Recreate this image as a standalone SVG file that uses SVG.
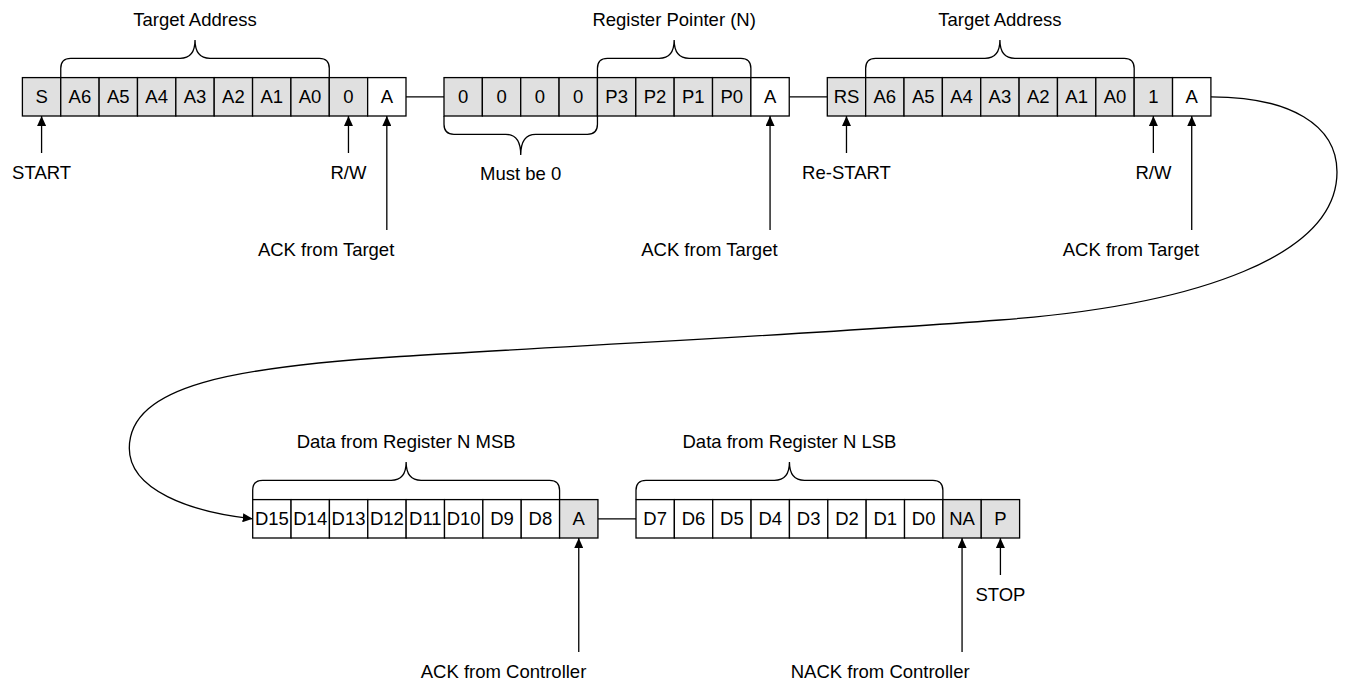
<svg xmlns="http://www.w3.org/2000/svg" width="1350" height="681" viewBox="0 0 1350 681">
<style>
.c{stroke:#000;stroke-width:1.3}
.g{fill:#e0e0e0}
.w{fill:#fff}
text{font-family:"Liberation Sans",Arial,sans-serif;font-size:18.5px;fill:#000}
.t{text-anchor:middle}
.e{text-anchor:end}
.br{fill:none;stroke:#000;stroke-width:1.3}
.ln{fill:none;stroke:#000;stroke-width:1.3}
.ar{fill:none;stroke:#000;stroke-width:1.3;marker-end:url(#ah)}
</style>
<defs>
<marker id="ah" markerUnits="userSpaceOnUse" markerWidth="10" markerHeight="9" refX="10" refY="4.5" orient="auto" viewBox="0 0 10 9">
<path d="M0,0 L10,4.5 L0,9 z" fill="#000"/>
</marker>
</defs>
<rect width="1350" height="681" fill="#fff"/>

<g id="connectors">
<path class="ln" d="M406,96.8 H444"/>
<path class="ln" d="M789.24,96.8 H827.3"/>
<path class="ln" d="M597.94,518.8 H636"/>
<path class="ar" d="M1210.9,96.8 C1290,96.8 1337,125 1337,172 C1337,255 1200,305 1000,320 C800,335 550,347 400,356.5 C235,367 129.3,385 129.3,448.3 C129.3,490 190,512 252.7,518.8"/>
<path class="ar" d="M41.58,153 V116"/>
<path class="ar" d="M348.46,153 V116"/>
<path class="ar" d="M386.82,230 V116"/>
<path class="ar" d="M770.06,230 V116"/>
<path class="ar" d="M846.48,153 V116"/>
<path class="ar" d="M1153.36,153 V116"/>
<path class="ar" d="M1191.72,230 V116"/>
<path class="ar" d="M578.76,652 V538"/>
<path class="ar" d="M962.06,652 V538"/>
<path class="ar" d="M1000.42,575 V538"/>
</g>

<g id="frame1">
<g id="f1-S"><rect class="c g" x="22.4" y="77.6" width="38.36" height="38.4"/><text class="t" x="41.58" y="103.4">S</text></g>
<g id="f1-A6"><rect class="c g" x="60.76" y="77.6" width="38.36" height="38.4"/><text class="t" x="79.94" y="103.4">A6</text></g>
<g id="f1-A5"><rect class="c g" x="99.12" y="77.6" width="38.36" height="38.4"/><text class="t" x="118.3" y="103.4">A5</text></g>
<g id="f1-A4"><rect class="c g" x="137.48" y="77.6" width="38.36" height="38.4"/><text class="t" x="156.66" y="103.4">A4</text></g>
<g id="f1-A3"><rect class="c g" x="175.84" y="77.6" width="38.36" height="38.4"/><text class="t" x="195.02" y="103.4">A3</text></g>
<g id="f1-A2"><rect class="c g" x="214.2" y="77.6" width="38.36" height="38.4"/><text class="t" x="233.38" y="103.4">A2</text></g>
<g id="f1-A1"><rect class="c g" x="252.56" y="77.6" width="38.36" height="38.4"/><text class="t" x="271.74" y="103.4">A1</text></g>
<g id="f1-A0"><rect class="c g" x="290.92" y="77.6" width="38.36" height="38.4"/><text class="t" x="310.1" y="103.4">A0</text></g>
<g id="f1-RW"><rect class="c g" x="329.28" y="77.6" width="38.36" height="38.4"/><text class="t" x="348.46" y="103.4">0</text></g>
<g id="f1-ACK"><rect class="c w" x="367.64" y="77.6" width="38.36" height="38.4"/><text class="t" x="386.82" y="103.4">A</text></g>
</g>

<g id="frame2">
<g id="f2-Z3"><rect class="c g" x="444" y="77.6" width="38.36" height="38.4"/><text class="t" x="463.18" y="103.4">0</text></g>
<g id="f2-Z2"><rect class="c g" x="482.36" y="77.6" width="38.36" height="38.4"/><text class="t" x="501.54" y="103.4">0</text></g>
<g id="f2-Z1"><rect class="c g" x="520.72" y="77.6" width="38.36" height="38.4"/><text class="t" x="539.9" y="103.4">0</text></g>
<g id="f2-Z0"><rect class="c g" x="559.08" y="77.6" width="38.36" height="38.4"/><text class="t" x="578.26" y="103.4">0</text></g>
<g id="f2-P3"><rect class="c g" x="597.44" y="77.6" width="38.36" height="38.4"/><text class="t" x="616.62" y="103.4">P3</text></g>
<g id="f2-P2"><rect class="c g" x="635.8" y="77.6" width="38.36" height="38.4"/><text class="t" x="654.98" y="103.4">P2</text></g>
<g id="f2-P1"><rect class="c g" x="674.16" y="77.6" width="38.36" height="38.4"/><text class="t" x="693.34" y="103.4">P1</text></g>
<g id="f2-P0"><rect class="c g" x="712.52" y="77.6" width="38.36" height="38.4"/><text class="t" x="731.7" y="103.4">P0</text></g>
<g id="f2-ACK"><rect class="c w" x="750.88" y="77.6" width="38.36" height="38.4"/><text class="t" x="770.06" y="103.4">A</text></g>
</g>

<g id="frame3">
<g id="f3-RS"><rect class="c g" x="827.3" y="77.6" width="38.36" height="38.4"/><text class="t" x="846.48" y="103.4">RS</text></g>
<g id="f3-A6"><rect class="c g" x="865.66" y="77.6" width="38.36" height="38.4"/><text class="t" x="884.84" y="103.4">A6</text></g>
<g id="f3-A5"><rect class="c g" x="904.02" y="77.6" width="38.36" height="38.4"/><text class="t" x="923.2" y="103.4">A5</text></g>
<g id="f3-A4"><rect class="c g" x="942.38" y="77.6" width="38.36" height="38.4"/><text class="t" x="961.56" y="103.4">A4</text></g>
<g id="f3-A3"><rect class="c g" x="980.74" y="77.6" width="38.36" height="38.4"/><text class="t" x="999.92" y="103.4">A3</text></g>
<g id="f3-A2"><rect class="c g" x="1019.1" y="77.6" width="38.36" height="38.4"/><text class="t" x="1038.28" y="103.4">A2</text></g>
<g id="f3-A1"><rect class="c g" x="1057.46" y="77.6" width="38.36" height="38.4"/><text class="t" x="1076.64" y="103.4">A1</text></g>
<g id="f3-A0"><rect class="c g" x="1095.82" y="77.6" width="38.36" height="38.4"/><text class="t" x="1115" y="103.4">A0</text></g>
<g id="f3-RW"><rect class="c g" x="1134.18" y="77.6" width="38.36" height="38.4"/><text class="t" x="1153.36" y="103.4">1</text></g>
<g id="f3-ACK"><rect class="c w" x="1172.54" y="77.6" width="38.36" height="38.4"/><text class="t" x="1191.72" y="103.4">A</text></g>
</g>

<g id="frame4">
<g id="f4-D15"><rect class="c w" x="252.7" y="499.6" width="38.36" height="38.4"/><text class="t" x="271.88" y="525.4">D15</text></g>
<g id="f4-D14"><rect class="c w" x="291.06" y="499.6" width="38.36" height="38.4"/><text class="t" x="310.24" y="525.4">D14</text></g>
<g id="f4-D13"><rect class="c w" x="329.42" y="499.6" width="38.36" height="38.4"/><text class="t" x="348.6" y="525.4">D13</text></g>
<g id="f4-D12"><rect class="c w" x="367.78" y="499.6" width="38.36" height="38.4"/><text class="t" x="386.96" y="525.4">D12</text></g>
<g id="f4-D11"><rect class="c w" x="406.14" y="499.6" width="38.36" height="38.4"/><text class="t" x="425.32" y="525.4">D11</text></g>
<g id="f4-D10"><rect class="c w" x="444.5" y="499.6" width="38.36" height="38.4"/><text class="t" x="463.68" y="525.4">D10</text></g>
<g id="f4-D9"><rect class="c w" x="482.86" y="499.6" width="38.36" height="38.4"/><text class="t" x="502.04" y="525.4">D9</text></g>
<g id="f4-D8"><rect class="c w" x="521.22" y="499.6" width="38.36" height="38.4"/><text class="t" x="540.4" y="525.4">D8</text></g>
<g id="f4-ACK"><rect class="c g" x="559.58" y="499.6" width="38.36" height="38.4"/><text class="t" x="578.76" y="525.4">A</text></g>
</g>

<g id="frame5">
<g id="f5-D7"><rect class="c w" x="636" y="499.6" width="38.36" height="38.4"/><text class="t" x="655.18" y="525.4">D7</text></g>
<g id="f5-D6"><rect class="c w" x="674.36" y="499.6" width="38.36" height="38.4"/><text class="t" x="693.54" y="525.4">D6</text></g>
<g id="f5-D5"><rect class="c w" x="712.72" y="499.6" width="38.36" height="38.4"/><text class="t" x="731.9" y="525.4">D5</text></g>
<g id="f5-D4"><rect class="c w" x="751.08" y="499.6" width="38.36" height="38.4"/><text class="t" x="770.26" y="525.4">D4</text></g>
<g id="f5-D3"><rect class="c w" x="789.44" y="499.6" width="38.36" height="38.4"/><text class="t" x="808.62" y="525.4">D3</text></g>
<g id="f5-D2"><rect class="c w" x="827.8" y="499.6" width="38.36" height="38.4"/><text class="t" x="846.98" y="525.4">D2</text></g>
<g id="f5-D1"><rect class="c w" x="866.16" y="499.6" width="38.36" height="38.4"/><text class="t" x="885.34" y="525.4">D1</text></g>
<g id="f5-D0"><rect class="c w" x="904.52" y="499.6" width="38.36" height="38.4"/><text class="t" x="923.7" y="525.4">D0</text></g>
<g id="f5-NA"><rect class="c g" x="942.88" y="499.6" width="38.36" height="38.4"/><text class="t" x="962.06" y="525.4">NA</text></g>
<g id="f5-P"><rect class="c g" x="981.24" y="499.6" width="38.36" height="38.4"/><text class="t" x="1000.42" y="525.4">P</text></g>
</g>

<g id="braces">
<path class="br" d="M60.76,77.6 V68.3 Q60.76,58.3 70.76,58.3 H180.02 Q195.02,58.3 195.02,40 Q195.02,58.3 210.02,58.3 H319.28 Q329.28,58.3 329.28,68.3 V77.6"/>
<path class="br" d="M597.44,77.6 V68.3 Q597.44,58.3 607.44,58.3 H659.16 Q674.16,58.3 674.16,40 Q674.16,58.3 689.16,58.3 H740.88 Q750.88,58.3 750.88,68.3 V77.6"/>
<path class="br" d="M865.66,77.6 V68.3 Q865.66,58.3 875.66,58.3 H984.92 Q999.92,58.3 999.92,40 Q999.92,58.3 1014.92,58.3 H1124.18 Q1134.18,58.3 1134.18,68.3 V77.6"/>
<path class="br" d="M444,116 V124.3 Q444,134.3 454,134.3 H505.72 Q520.72,134.3 520.72,155 Q520.72,134.3 535.72,134.3 H587.44 Q597.44,134.3 597.44,124.3 V116"/>
<path class="br" d="M252.7,499.6 V490.3 Q252.7,480.3 262.7,480.3 H391.14 Q406.14,480.3 406.14,462 Q406.14,480.3 421.14,480.3 H549.58 Q559.58,480.3 559.58,490.3 V499.6"/>
<path class="br" d="M636,499.6 V490.3 Q636,480.3 646,480.3 H774.44 Q789.44,480.3 789.44,462 Q789.44,480.3 804.44,480.3 H932.88 Q942.88,480.3 942.88,490.3 V499.6"/>
</g>

<g id="labels">
<text class="t" x="195.02" y="26">Target Address</text>
<text class="t" x="674.16" y="26">Register Pointer (N)</text>
<text class="t" x="999.92" y="26">Target Address</text>
<text class="t" x="520.72" y="180">Must be 0</text>
<text class="t" x="406.14" y="448">Data from Register N MSB</text>
<text class="t" x="789.44" y="448">Data from Register N LSB</text>
<text class="t" x="41.58" y="179">START</text>
<text class="t" x="348.46" y="179">R/W</text>
<text class="e" x="394.3" y="256">ACK from Target</text>
<text class="e" x="777.6" y="256">ACK from Target</text>
<text class="t" x="846.48" y="179">Re-START</text>
<text class="t" x="1153.36" y="179">R/W</text>
<text class="e" x="1199.2" y="256">ACK from Target</text>
<text class="e" x="586.3" y="678">ACK from Controller</text>
<text class="e" x="969.6" y="678">NACK from Controller</text>
<text class="t" x="1000.42" y="601">STOP</text>
</g>
</svg>
